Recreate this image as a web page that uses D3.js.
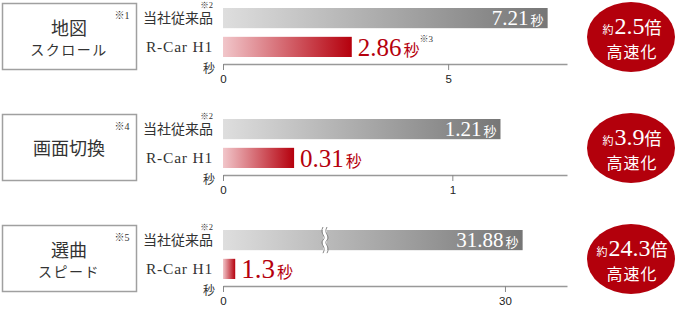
<!DOCTYPE html>
<html>
<head>
<meta charset="utf-8">
<script src="https://cdn.jsdelivr.net/npm/d3@7"></script>
<style>
  body { margin: 0; background: #fff; }
  svg { display: block; }
  text { font-family: "Liberation Serif", "Noto Sans CJK JP", serif; }
  .jp { font-family: "Noto Sans CJK JP", sans-serif; }
</style>
</head>
<body>
<script>
'use strict';

// chart values
const panelTitles = [["地図", "スクロール"], ["画面切換"], ["選曲", "スピード"]];
const panelNotes = ["※1", "※4", "※5"];
const seriesNames = ["当社従来品", "R-Car H1"];
const legacyTimes = [7.21, 1.21, 31.88];
const rcarTimes = [2.86, 0.31, 1.3];
const rcarNotes = ["※3", "", ""];
const speedups = ["2.5", "3.9", "24.3"];
const axisTicks = [[0, 5], [0, 1], [0, 30]];
const axisMax = [7.64, 1.5, 36.6];

(function() {

  let svg = d3.select('body')
    .append('svg')
    .attr('width', 680)
    .attr('height', 310);

  let defs = svg.append('defs');

  // gradients for the two bar types
  let gray = defs.append('linearGradient').attr('id', 'grayGrad');
  gray.append('stop').attr('offset', '0%').attr('stop-color', '#dedede');
  gray.append('stop').attr('offset', '100%').attr('stop-color', '#767676');

  let red = defs.append('linearGradient').attr('id', 'redGrad');
  red.append('stop').attr('offset', '0%').attr('stop-color', '#f1c6ca');
  red.append('stop').attr('offset', '100%').attr('stop-color', '#b5000d');

  let panelStep = 111;
  let x0 = 223, x1 = 567;

  for (let i = 0; i < panelTitles.length; i++) {
    drawPanel(i, i * panelStep);
  }

  function drawPanel(i, top) {
    let g = svg.append('g').attr('transform', 'translate(0,' + top + ')');

    // title box on the left
    g.append('rect')
      .attr('x', 2.5).attr('y', 3.5)
      .attr('width', 134).attr('height', 66)
      .attr('fill', '#fff')
      .attr('stroke', '#a0a0a0')
      .attr('stroke-width', 1.5);

    let lines = panelTitles[i];
    let title = g.append('text')
      .attr('class', 'jp')
      .attr('text-anchor', 'middle')
      .attr('fill', '#333');
    if (lines.length == 1) {
      title.append('tspan').attr('x', 69).attr('y', 44)
        .style('font-size', '18px').text(lines[0]);
    } else {
      title.append('tspan').attr('x', 69).attr('y', 35)
        .style('font-size', '18px').text(lines[0]);
      title.append('tspan').attr('x', 69).attr('y', 55)
        .style('font-size', '14px').attr('letter-spacing', '1.5px').text(lines[1]);
    }

    g.append('text')
      .attr('x', 122).attr('y', 19)
      .attr('text-anchor', 'middle')
      .attr('fill', '#333')
      .style('font-size', '10px')
      .text(panelNotes[i]);

    // scales
    let xScale = d3.scaleLinear()
      .domain([0, axisMax[i]])
      .range([x0, x1]);

    let yScale = d3.scaleBand()
      .domain(seriesNames)
      .range([8, 57])
      .paddingInner(0.3);

    let values = [legacyTimes[i], rcarTimes[i]];
    let rows = seriesNames.map((name, k) => ({ name: name, value: values[k] }));

    // bars
    g.selectAll('.bar')
      .data(rows)
      .enter()
      .append('rect')
        .attr('x', xScale(0))
        .attr('y', (d) => yScale(d.name))
        .attr('width', (d) => xScale(d.value) - xScale(0))
        .attr('height', yScale.bandwidth())
        .attr('fill', (d, k) => k == 0 ? 'url(#grayGrad)' : 'url(#redGrad)');

    // break mark on the long bar
    if (i == 2) {
      let bx = xScale(0) + 100;
      let by = yScale(seriesNames[0]);
      let bh = yScale.bandwidth();
      let wave = (x) => {
        let p = d3.path();
        p.moveTo(x, by - 3);
        p.bezierCurveTo(x - 4, by + 4, x + 4, by + 6, x, by + bh / 2);
        p.bezierCurveTo(x - 4, by + bh - 6, x + 4, by + bh - 4, x, by + bh + 3);
        return p.toString();
      };
      g.append('rect')
        .attr('x', bx).attr('y', by)
        .attr('width', 4).attr('height', bh)
        .attr('fill', '#fff');
      [bx, bx + 4].forEach((x) => {
        g.append('path')
          .attr('d', wave(x))
          .attr('fill', 'none')
          .attr('stroke', '#888')
          .attr('stroke-width', 1);
      });
    }

    // category labels
    g.selectAll('.cat')
      .data(seriesNames)
      .enter()
      .append('text')
        .attr('x', 213)
        .attr('y', (d) => yScale(d) + yScale.bandwidth() / 2 + 5)
        .attr('text-anchor', 'end')
        .attr('fill', '#333')
        .attr('letter-spacing', (d, k) => k == 0 ? '0px' : '0.8px')
        .style('font-size', (d, k) => k == 0 ? '14px' : '15.5px')
        .text((d) => d);

    g.append('text')
      .attr('x', 213).attr('y', 8)
      .attr('text-anchor', 'end')
      .attr('fill', '#333')
      .style('font-size', '8.5px')
      .text('※2');

    // legacy value inside the gray bar
    let gl = g.append('text')
      .attr('x', xScale(legacyTimes[i]) - 4)
      .attr('y', yScale(seriesNames[0]) + 17)
      .attr('text-anchor', 'end')
      .attr('fill', '#fff');
    gl.append('tspan').style('font-size', '21px').text(legacyTimes[i]);
    gl.append('tspan').attr('class', 'jp').attr('dx', 2).style('font-size', '13px').text('秒');

    // R-Car value next to the red bar
    let big = i == 2 ? 27 : 25;
    let rl = g.append('text')
      .attr('x', xScale(rcarTimes[i]) + 6)
      .attr('y', yScale(seriesNames[1]) + yScale.bandwidth() - 1)
      .attr('fill', '#b5000d');
    rl.append('tspan').style('font-size', big + 'px').text(rcarTimes[i]);
    rl.append('tspan').attr('class', 'jp').attr('dx', 2).style('font-size', '16px').text('秒');
    if (rcarNotes[i]) {
      rl.append('tspan').attr('dy', -14).attr('fill', '#333')
        .style('font-size', '9px').text(rcarNotes[i]);
    }

    // axis
    let axis = d3.axisBottom(xScale)
      .tickValues(axisTicks[i])
      .tickSize(6)
      .tickSizeOuter(0)
      .tickFormat(d3.format('d'));
    let ag = g.append('g')
      .attr('transform', 'translate(0,64)')
      .call(axis);
    ag.select('.domain').attr('stroke', '#999').attr('stroke-width', 1.5);
    ag.selectAll('.tick line').attr('stroke', '#888');
    ag.selectAll('.tick text')
      .attr('fill', '#222')
      .attr('dy', '0.9em')
      .style('font-family', '"Liberation Sans", sans-serif')
      .style('font-size', '11.5px');

    g.append('text')
      .attr('class', 'jp')
      .attr('x', 215).attr('y', 73)
      .attr('text-anchor', 'end')
      .attr('fill', '#333')
      .style('font-size', '12px')
      .text('秒');

    // speed-up badge
    g.append('ellipse')
      .attr('cx', 631).attr('cy', 37)
      .attr('rx', 44).attr('ry', 35)
      .attr('fill', '#b3000c');

    let bt = g.append('text')
      .attr('x', 632).attr('y', 34)
      .attr('text-anchor', 'middle')
      .attr('fill', '#fff');
    bt.append('tspan').attr('class', 'jp').style('font-size', '11px').text('約');
    bt.append('tspan').style('font-size', '24px').attr('dx', 1).text(speedups[i]);
    bt.append('tspan').attr('class', 'jp').style('font-size', '17px').text('倍');

    g.append('text')
      .attr('class', 'jp')
      .attr('x', 632).attr('y', 58)
      .attr('text-anchor', 'middle')
      .attr('fill', '#fff')
      .attr('letter-spacing', '1px')
      .style('font-size', '16px')
      .text('高速化');
  }

})();
</script>
</body>
</html>
